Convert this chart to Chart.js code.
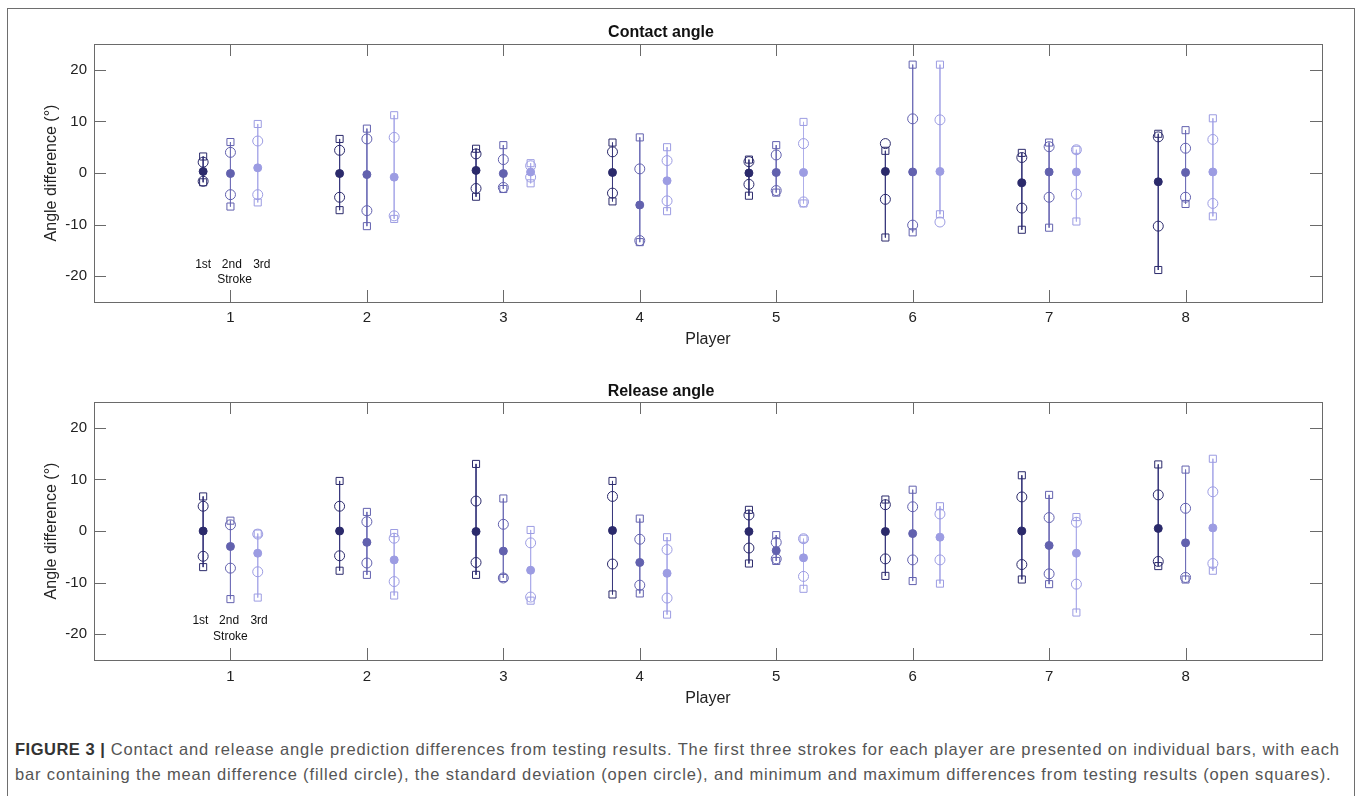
<!DOCTYPE html>
<html>
<head>
<meta charset="utf-8">
<script src="https://cdn.jsdelivr.net/npm/chart.js@4.4.1/dist/chart.umd.min.js"></script>
<style>
    body { margin: 0; background: #fff; width: 1358px; height: 796px; overflow: hidden; position: relative; }
    #frame { position: absolute; left: 7px; top: 8px; width: 1348px; height: 820px; border: 1px solid #6e6e6e; box-sizing: border-box; }
    canvas { position: absolute; left: 0; }
    #contactChart { top: 0; }
    #releaseChart { top: 360px; }
    #caption { position: absolute; left: 15px; top: 737px; font-family: 'Liberation Sans', Arial, sans-serif; font-size: 16.5px; letter-spacing: 0.85px; line-height: 25px; color: #555; white-space: nowrap; }
    #caption b { color: #333; letter-spacing: 0.5px; }
</style>
</head>
<body>
<div id="frame"></div>
<canvas id="contactChart" width="1358" height="360"></canvas>
<canvas id="releaseChart" width="1358" height="360"></canvas>
<div id="caption"><b>FIGURE 3 |</b> Contact and release angle prediction differences from testing results. The first three strokes for each player are presented on individual bars, with each<br>bar containing the mean difference (filled circle), the standard deviation (open circle), and minimum and maximum differences from testing results (open squares).</div>

<script>
const players = [1, 2, 3, 4, 5, 6, 7, 8];
const strokes = ['1st', '2nd', '3rd'];
const yTicks = [-20, -10, 0, 10, 20];

// Contact angle: one row per stroke (1st, 2nd, 3rd), one value per player
const contactMean = [
    [0.3, -0.1, 0.5, 0.1, 0.0, 0.3, -1.9, -1.7],
    [-0.1, -0.3, -0.1, -6.2, 0.1, 0.2, 0.2, 0.1],
    [1.0, -0.8, 0.2, -1.5, 0.1, 0.3, 0.2, 0.2]
];
const contactSdHigh = [
    [2.1, 4.4, 3.7, 4.1, 2.2, 5.7, 3.0, 7.0],
    [4.0, 6.6, 2.6, 0.8, 3.5, 10.5, 5.1, 4.8],
    [6.2, 6.9, 1.4, 2.4, 5.7, 10.3, 4.5, 6.5]
];
const contactSdLow = [
    [-1.6, -4.7, -3.0, -3.9, -2.2, -5.1, -6.8, -10.3],
    [-4.2, -7.3, -2.8, -13.1, -3.4, -10.1, -4.7, -4.7],
    [-4.2, -8.3, -0.8, -5.4, -5.6, -9.5, -4.1, -5.9]
];
const contactMax = [
    [3.2, 6.6, 4.7, 5.9, 2.6, 4.3, 3.9, 7.6],
    [6.0, 8.6, 5.4, 6.9, 5.4, 21.0, 5.9, 8.3],
    [9.5, 11.2, 1.9, 5.0, 9.9, 21.0, 4.5, 10.6]
];
const contactMin = [
    [-1.8, -7.2, -4.6, -5.5, -4.4, -12.5, -11.0, -18.8],
    [-6.5, -10.3, -3.1, -13.4, -3.8, -11.5, -10.6, -6.0],
    [-5.7, -8.9, -2.0, -7.4, -5.9, -8.0, -9.4, -8.4]
];

// Release angle
const releaseMean = [
    [0.0, 0.0, -0.1, 0.1, -0.1, -0.1, 0.0, 0.5],
    [-3.0, -2.2, -3.9, -6.1, -3.8, -0.5, -2.8, -2.3],
    [-4.3, -5.6, -7.6, -8.2, -5.2, -1.2, -4.3, 0.6]
];
const releaseSdHigh = [
    [4.8, 4.8, 5.8, 6.7, 3.1, 5.1, 6.6, 7.0],
    [1.2, 1.8, 1.3, -1.6, -2.2, 4.7, 2.6, 4.4],
    [-0.6, -1.4, -2.3, -3.6, -1.5, 3.3, 1.7, 7.6]
];
const releaseSdLow = [
    [-4.9, -4.8, -6.1, -6.4, -3.3, -5.4, -6.5, -5.9],
    [-7.2, -6.2, -9.1, -10.5, -5.4, -5.6, -8.3, -9.0],
    [-7.9, -9.8, -12.8, -13.0, -8.8, -5.6, -10.3, -6.3]
];
const releaseMax = [
    [6.7, 9.7, 13.0, 9.7, 4.1, 6.1, 10.8, 12.9],
    [2.0, 3.7, 6.3, 2.4, -0.8, 8.0, 7.0, 11.9],
    [-0.5, -0.4, 0.2, -1.2, -1.5, 4.8, 2.7, 14.0]
];
const releaseMin = [
    [-7.0, -7.7, -8.5, -12.3, -6.3, -8.7, -9.4, -6.8],
    [-13.2, -8.5, -9.1, -12.1, -5.8, -9.7, -10.3, -9.4],
    [-12.9, -12.5, -13.5, -16.2, -11.2, -10.2, -15.8, -7.7]
];

// styling
const strokeOffset = [-0.2, 0, 0.2];
const markerColors = ['#2b2a6b', '#6261ae', '#9c9ce2'];
const lineColors = ['#3b3a7e', '#7170b8', '#aeaeea'];
const FONT = "'Liberation Sans', Arial, sans-serif";

// inward ticks on all four sides, box outline and the stroke labels
const matlabAxes = {
    id: 'matlabAxes',
    afterDatasetsDraw(chart, args, opts) {
        const ctx = chart.ctx;
        const a = chart.chartArea;
        const xs = chart.scales.x, ys = chart.scales.y;
        const len = 12;
        ctx.save();
        ctx.strokeStyle = '#6a6a6a';
        ctx.lineWidth = 1;
        ctx.beginPath();
        players.forEach(p => {
            const px = Math.round(xs.getPixelForValue(p)) + 0.5;
            ctx.moveTo(px, a.bottom); ctx.lineTo(px, a.bottom - len);
            ctx.moveTo(px, a.top); ctx.lineTo(px, a.top + len);
        });
        yTicks.forEach(v => {
            const py = Math.round(ys.getPixelForValue(v)) + 0.5;
            ctx.moveTo(a.left, py); ctx.lineTo(a.left + len, py);
            ctx.moveTo(a.right, py); ctx.lineTo(a.right - len, py);
        });
        ctx.stroke();
        ctx.strokeRect(Math.round(a.left) + 0.5, Math.round(a.top) + 0.5,
            Math.round(a.right - a.left), Math.round(a.bottom - a.top));

        ctx.fillStyle = '#111';
        ctx.font = '12px ' + FONT;
        ctx.textAlign = 'center';
        ctx.textBaseline = 'middle';
        opts.labels.forEach(l => {
            ctx.fillText(l.text, xs.getPixelForValue(l.x), ys.getPixelForValue(l.y));
        });
        ctx.restore();
    }
};

function buildDatasets(mean, sdHigh, sdLow, max, min) {
    const sets = [];
    strokes.forEach((s, i) => {
        const xOf = p => p + strokeOffset[i];
        const bars = [];
        players.forEach((p, j) => {
            bars.push({x: xOf(p), y: max[i][j]});
            bars.push({x: xOf(p), y: min[i][j]});
            bars.push({x: xOf(p), y: null});
        });
        sets.push({
            type: 'line', label: s + ' range', data: bars, order: 3,
            borderColor: lineColors[i], borderWidth: 1, pointRadius: 0, spanGaps: false
        });
        const squares = [];
        players.forEach((p, j) => {
            squares.push({x: xOf(p), y: max[i][j]});
            squares.push({x: xOf(p), y: min[i][j]});
        });
        sets.push({
            type: 'scatter', label: s + ' min/max', data: squares, order: 2,
            pointStyle: 'rect', pointRadius: 5, borderWidth: 1,
            borderColor: markerColors[i], backgroundColor: 'rgba(255,255,255,0)'
        });
        const sd = [];
        players.forEach((p, j) => {
            sd.push({x: xOf(p), y: sdHigh[i][j]});
            sd.push({x: xOf(p), y: sdLow[i][j]});
        });
        sets.push({
            type: 'scatter', label: s + ' sd', data: sd, order: 1,
            pointStyle: 'circle', pointRadius: 5, borderWidth: 1,
            borderColor: markerColors[i], backgroundColor: 'rgba(255,255,255,0)'
        });
        sets.push({
            type: 'scatter', label: s + ' mean', data: players.map((p, j) => ({x: xOf(p), y: mean[i][j]})), order: 0,
            pointStyle: 'circle', pointRadius: 4, borderWidth: 1,
            borderColor: markerColors[i], backgroundColor: markerColors[i]
        });
    });
    return sets;
}

function makePanel(canvasId, titleText, data, lay) {
    const ctx = document.getElementById(canvasId).getContext('2d');
    return new Chart(ctx, {
        type: 'scatter',
        data: { datasets: buildDatasets(data.mean, data.sdHigh, data.sdLow, data.max, data.min) },
        options: {
            responsive: false,
            animation: false,
            events: [],
            layout: { padding: { left: 0, right: 36, top: 0, bottom: 0 } },
            plugins: {
                legend: { display: false },
                tooltip: { enabled: false },
                title: {
                    display: true,
                    text: titleText,
                    color: '#111',
                    font: { family: FONT, size: 16, weight: 'bold' },
                    padding: { top: lay.titleTop, bottom: lay.titleBottom }
                },
                matlabAxes: { labels: lay.labels }
            },
            scales: {
                x: {
                    type: 'linear',
                    min: 0,
                    max: 9,
                    afterBuildTicks: scale => { scale.ticks = players.map(v => ({value: v})); },
                    afterFit: scale => { scale.height = lay.xHeight; },
                    grid: { display: false, drawTicks: false },
                    border: { display: false },
                    ticks: { color: '#222', padding: lay.xTickPad, font: { family: FONT, size: 15 } },
                    title: {
                        display: true, text: 'Player', color: '#222',
                        font: { family: FONT, size: 16 },
                        padding: { top: 0, bottom: lay.xTitleBottom }
                    }
                },
                y: {
                    min: -25,
                    max: 25,
                    afterBuildTicks: scale => { scale.ticks = yTicks.map(v => ({value: v})); },
                    afterFit: scale => { scale.width = 94; },
                    grid: { display: false, drawTicks: false },
                    border: { display: false },
                    ticks: { color: '#222', padding: 7, font: { family: FONT, size: 15 } },
                    title: {
                        display: true, text: 'Angle difference (°)', color: '#222',
                        font: { family: FONT, size: 16 },
                        padding: { top: 42.4, bottom: 0 }
                    }
                }
            }
        },
        plugins: [matlabAxes]
    });
}

makePanel('contactChart', 'Contact angle', {
    mean: contactMean, sdHigh: contactSdHigh, sdLow: contactSdLow, max: contactMax, min: contactMin
}, {
    titleTop: 23.4, titleBottom: 1.4, xHeight: 58, xTickPad: 7, xTitleBottom: 10.4,
    labels: [
        {text: '1st', x: 0.8, y: -17.8}, {text: '2nd', x: 1.01, y: -17.8},
        {text: '3rd', x: 1.23, y: -17.8}, {text: 'Stroke', x: 1.03, y: -20.7}
    ]
});

makePanel('releaseChart', 'Release angle', {
    mean: releaseMean, sdHigh: releaseSdHigh, sdLow: releaseSdLow, max: releaseMax, min: releaseMin
}, {
    titleTop: 22.4, titleBottom: 0.4, xHeight: 60, xTickPad: 8, xTitleBottom: 11.4,
    labels: [
        {text: '1st', x: 0.78, y: -17.4}, {text: '2nd', x: 0.99, y: -17.4},
        {text: '3rd', x: 1.21, y: -17.4}, {text: 'Stroke', x: 1.0, y: -20.5}
    ]
});
</script>
</body>
</html>
